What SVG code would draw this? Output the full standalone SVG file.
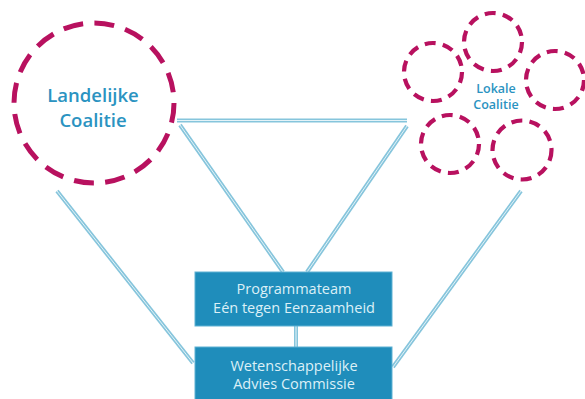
<svg xmlns="http://www.w3.org/2000/svg" width="585" height="399" viewBox="0 0 585 399">
<style>
.big{fill:none;stroke:#b8115f;stroke-width:5;stroke-dasharray:20 11.4}
.sm{fill:none;stroke:#b8115f;stroke-width:4.2;stroke-dasharray:11 7.3}
.ct{font-family:"Open Sans","Liberation Sans",sans-serif;font-weight:600;fill:#2b93c1;text-anchor:middle}
.box{fill:#1f8dbb;stroke:#5fb1d3;stroke-width:1}
.bt{font-family:"Open Sans","Liberation Sans",sans-serif;font-size:14.5px;fill:#dcf0f7;text-anchor:middle}
.lo{stroke:#86c5dc;stroke-width:4;fill:none}
.li{stroke:#e4f3f8;stroke-width:1;fill:none}
</style>
<rect width="585" height="399" fill="#ffffff"/>
<g id="connectors">
<g class="lo">
<line x1="177" y1="120.5" x2="407" y2="120.5"/>
<line x1="180" y1="125" x2="283" y2="272"/>
<line x1="407" y1="126" x2="307" y2="272"/>
<line x1="57" y1="191" x2="193" y2="363"/>
<line x1="521" y1="191" x2="393" y2="367"/>
<line x1="296" y1="326" x2="296" y2="347"/>
</g>
<g class="li">
<line x1="177" y1="120.5" x2="407" y2="120.5"/>
<line x1="180" y1="125" x2="283" y2="272"/>
<line x1="407" y1="126" x2="307" y2="272"/>
<line x1="57" y1="191" x2="193" y2="363"/>
<line x1="521" y1="191" x2="393" y2="367"/>
<line x1="296" y1="326" x2="296" y2="347"/>
</g>
</g>
<g id="landelijke">
<circle class="big" cx="94" cy="103" r="80"/>
<text class="ct" x="93" y="102" font-size="18.5">Landelijke</text>
<text class="ct" x="93" y="127" font-size="18.5">Coalitie</text>
</g>
<g id="lokale">
<circle class="sm" cx="493" cy="42" r="29"/>
<circle class="sm" cx="433" cy="72" r="29"/>
<circle class="sm" cx="555" cy="80" r="29"/>
<circle class="sm" cx="450" cy="144" r="29"/>
<circle class="sm" cx="522" cy="150" r="29.5"/>
<text class="ct" x="496" y="93" font-size="12.5">Lokale</text>
<text class="ct" x="496" y="109" font-size="12.5">Coalitie</text>
</g>
<g id="programmateam">
<rect class="box" x="195" y="272" width="197" height="54"/>
<text class="bt" x="294" y="294">Programmateam</text>
<text class="bt" x="294" y="313">Eén tegen Eenzaamheid</text>
</g>
<g id="wac">
<rect class="box" x="195" y="347" width="197" height="56"/>
<text class="bt" x="294" y="371">Wetenschappelijke</text>
<text class="bt" x="294" y="389">Advies Commissie</text>
</g>
</svg>
